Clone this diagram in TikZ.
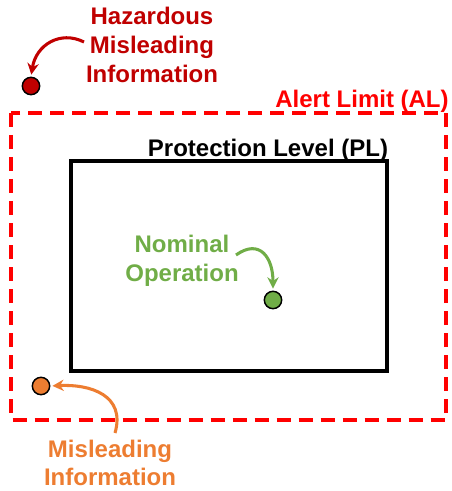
\documentclass[tikz,border=0pt]{standalone}
\usepackage{fontspec}
\setmainfont{Liberation Sans}
\usetikzlibrary{arrows.meta}
\definecolor{hmired}{HTML}{C00000}
\definecolor{nomgreen}{HTML}{70AD47}
\definecolor{misorange}{HTML}{ED7D31}
\definecolor{alred}{HTML}{FF0000}
\tikzset{
  lbl/.style={font=\fontsize{18pt}{21pt}\selectfont\bfseries, anchor=base, inner sep=0pt},
  dot/.style={circle, draw=black, line width=1.1pt, minimum size=13pt, inner sep=0pt},
  curvearrow/.style={line width=2.3pt, shorten >=1.5pt, -{Stealth[length=8.5pt,width=8.5pt]}},
  pllbox/.style={draw=black, line width=3pt},
  alfbox/.style={draw=alred, line width=3pt, dash pattern=on 10.5pt off 6pt}
}
\begin{document}
\begin{tikzpicture}[x=0.75pt,y=-0.75pt]
\useasboundingbox (0,0) rectangle (451,491);
% alert limit box
\draw[alfbox] (11,113) rectangle (446,419.5);
\node[lbl, text=alred] (al) at (362,108) {Alert Limit (AL)};
% protection level box
\draw[pllbox] (71,161) rectangle (387,371);
\node[lbl, text=black] (pl) at (268,157) {Protection Level (PL)};
% hazardous misleading information
\node[lbl, text=hmired] (hmi1) at (152,25) {Hazardous};
\node[lbl, text=hmired] (hmi2) at (152,54) {Misleading};
\node[lbl, text=hmired] (hmi3) at (152,83) {Information};
\node[dot, fill=hmired] (hdot) at (31,86) {};
\coordinate (hstart) at (84,42);
\draw[curvearrow, draw=hmired] (hstart) .. controls (60,30) and (36,45) .. (hdot.north);
% nominal operation
\node[lbl, text=nomgreen] (nom1) at (182,252) {Nominal};
\node[lbl, text=nomgreen] (nom2) at (182,281) {Operation};
\node[dot, fill=nomgreen] (ndot) at (273,300) {};
\coordinate (nstart) at (236,255);
\draw[curvearrow, draw=nomgreen] (nstart) .. controls (260,238) and (273,258) .. (ndot.north);
% misleading information
\node[lbl, text=misorange] (mi1) at (110,457) {Misleading};
\node[lbl, text=misorange] (mi2) at (110,485) {Information};
\node[dot, fill=misorange] (mdot) at (41,386) {};
\coordinate (mstart) at (115,433);
\draw[curvearrow, draw=misorange] (mstart) .. controls (126,395) and (90,384) .. (mdot.east);
\end{tikzpicture}
\end{document}
